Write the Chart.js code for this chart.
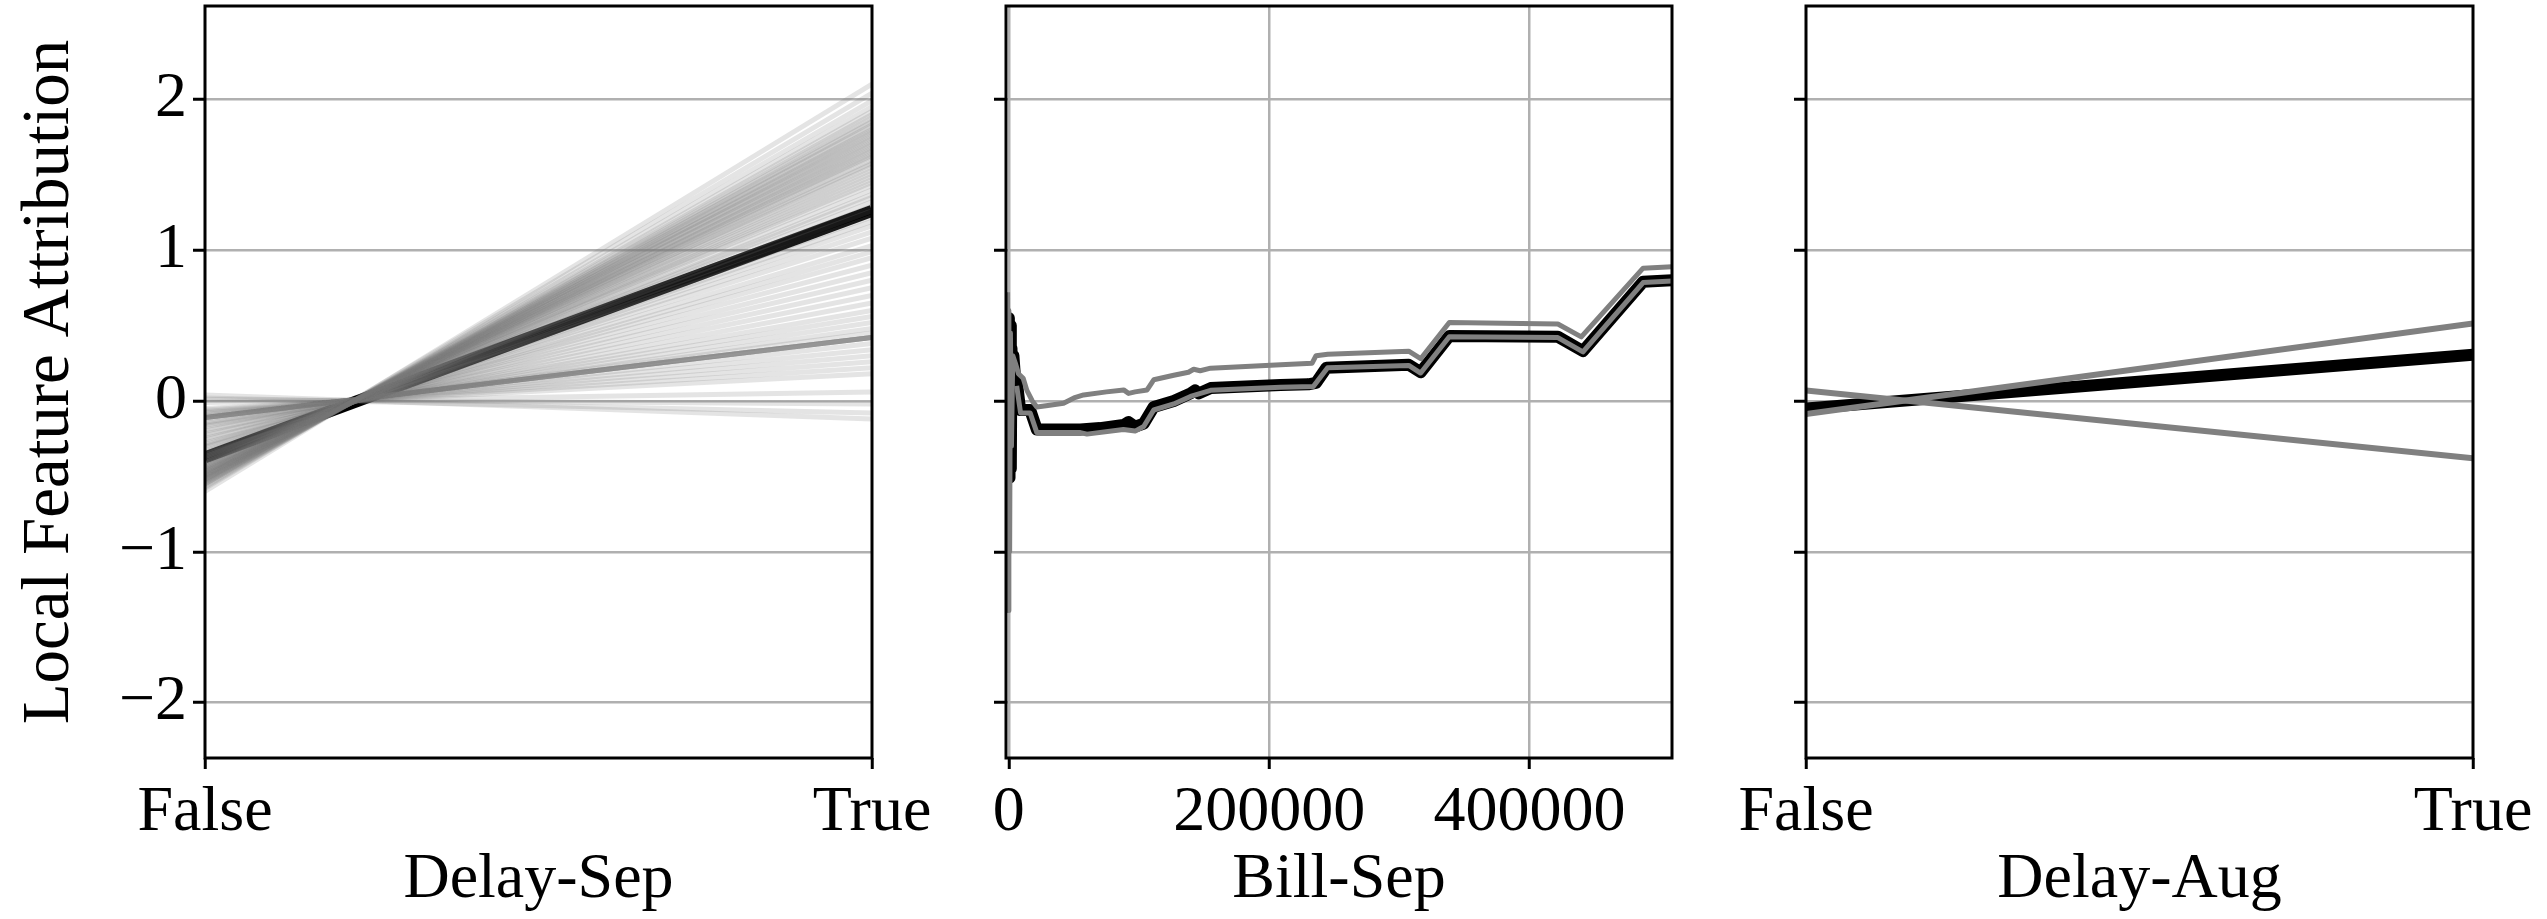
<!DOCTYPE html>
<html>
<head>
<meta charset="utf-8">
<script src="https://cdn.jsdelivr.net/npm/chart.js@4.4.0/dist/chart.umd.min.js"></script>
<style>
  body { margin: 0; background: #fff; width: 2547px; height: 919px; position: relative; overflow: hidden; }
  canvas { position: absolute; top: 0; }
</style>
</head>
<body>
<canvas id="delaySep" width="960" height="919" style="left:0px"></canvas>
<canvas id="billSep" width="800" height="919" style="left:940px"></canvas>
<canvas id="delayAug" width="827" height="919" style="left:1720px"></canvas>
<script>
// shared y range
const yMin = -2.367;
const yMax = 2.618;
const yTickStep = 1;

// Delay-Sep: many local lines, each from False to True
const sepTrue = [2.10, 2.04, 1.99, 1.95, 1.92, 1.90, 1.88, 1.86, 1.85, 1.83, 1.82, 1.80, 1.79, 1.78, 1.76,
  1.75, 1.74, 1.72, 1.71, 1.70, 1.68, 1.67, 1.66, 1.64, 1.63, 1.62, 1.60, 1.58, 1.57, 1.55, 1.53, 1.51,
  1.49, 1.47, 1.45, 1.43, 1.40, 1.37, 1.35, 1.32, 1.29, 1.26, 1.22, 1.19, 1.16, 1.12, 1.08, 1.03, 0.99,
  0.95, 0.90, 0.85, 0.80, 0.75, 0.70, 0.65, 0.60, 0.56, 0.52, 0.48, 0.45, 0.42, 0.42, 0.42, 0.42, 0.42,
  0.42, 0.42, 0.38, 0.34, 0.30, 0.26, 0.22, 0.18, 0.06, -0.02, -0.08, -0.12];
const sepFalse = [-0.60, -0.58, -0.57, -0.56, -0.55, -0.55, -0.54, -0.54, -0.53, -0.53, -0.52, -0.52, -0.52, -0.51, -0.51,
  -0.50, -0.50, -0.50, -0.49, -0.49, -0.49, -0.48, -0.48, -0.47, -0.47, -0.47, -0.46, -0.46, -0.45, -0.45, -0.44, -0.44,
  -0.43, -0.43, -0.42, -0.41, -0.41, -0.40, -0.39, -0.38, -0.37, -0.37, -0.36, -0.35, -0.34, -0.33, -0.31, -0.30, -0.29,
  -0.28, -0.26, -0.25, -0.23, -0.22, -0.20, -0.19, -0.17, -0.16, -0.15, -0.14, -0.12, -0.11, -0.11, -0.11, -0.11, -0.11,
  -0.11, -0.11, -0.10, -0.09, -0.08, -0.07, -0.06, -0.05, -0.01, 0.01, 0.02, 0.04];
const sepMean = [-0.374, 1.26];

// Bill-Sep: global curve (black) and two local curves (gray)
const billBlackX = [-500, 0, 500, 1000, 1500, 2000, 2800, 3500, 4500, 6200, 8700, 16400, 21500, 55000, 70000, 88000,
  92000, 97000, 103600, 111300, 126700, 139600, 143000, 146000, 155000, 208800, 230000, 236000, 244000, 307200,
  316400, 338400, 421800, 441100, 487300, 509500];
const billBlack = [0.30, 0.55, -0.51, 0.50, -0.45, 0.35, 0.10, 0.30, 0.18, 0.12, -0.06, -0.06, -0.19, -0.19, -0.18, -0.16,
  -0.14, -0.17, -0.15, -0.04, 0.00, 0.05, 0.07, 0.05, 0.085, 0.105, 0.11, 0.12, 0.22, 0.24,
  0.19, 0.43, 0.425, 0.33, 0.79, 0.80];
const billUpperX = [-1000, -500, 0, 600, 1200, 2000, 3000, 5000, 7400, 11000, 13850, 18000, 21500, 30000, 42000, 50000,
  57400, 75000, 88200, 92000, 97000, 106200, 111300, 126700, 138000, 142000, 147000, 155000, 208800, 233000,
  236000, 245000, 307200, 316400, 338400, 421800, 439800, 487300, 509500];
const billUpper = [0.72, -1.39, 0.60, -1.00, 0.45, -0.30, 0.30, 0.25, 0.18, 0.15, 0.07, 0.00, -0.04, -0.03, -0.015, 0.02,
  0.04, 0.06, 0.073, 0.05, 0.06, 0.073, 0.14, 0.17, 0.19, 0.21, 0.20, 0.217, 0.24, 0.25,
  0.30, 0.31, 0.33, 0.28, 0.52, 0.51, 0.425, 0.88, 0.89];
const billLowerX = [6000, 9000, 16400, 21500, 55000, 60000, 88000, 97000, 103600, 111300, 126700, 139600, 155000,
  208800, 233900, 244900, 307200, 316400, 338400, 421800, 441100, 487300, 509500];
const billLower = [0.10, -0.08, -0.08, -0.21, -0.21, -0.22, -0.19, -0.20, -0.17, -0.06, -0.02, 0.03, 0.07,
  0.09, 0.095, 0.22, 0.235, 0.185, 0.425, 0.42, 0.325, 0.785, 0.795];
const billTicks = [0, 200000, 400000];

// Delay-Aug: global line and two local lines, [False, True]
const augMean = [-0.05, 0.307];
const augUp = [-0.086, 0.514];
const augDown = [0.07, -0.38];

const boolLabels = ['False', 'True'];

Chart.defaults.font.family = "'Liberation Serif', serif";
Chart.defaults.color = '#000';

const fontBig = { size: 64, family: "'Liberation Serif', serif" };
const fontTitleY = { size: 67, family: "'Liberation Serif', serif" };
const gridGray = '#b0b0b0';

const frame = {
  id: 'frame',
  afterDatasetsDraw(chart) {
    const { ctx, chartArea: a } = chart;
    ctx.save();
    ctx.strokeStyle = '#000';
    ctx.lineWidth = 3;
    ctx.strokeRect(a.left, a.top, a.right - a.left, a.bottom - a.top);
    ctx.restore();
  }
};

function pairLine(xs, ys, color, width) {
  return {
    data: xs.map((x, i) => ({ x: x, y: ys[i] })),
    borderColor: color,
    borderWidth: width,
    pointRadius: 0,
    tension: 0,
    borderJoinStyle: 'round',
    fill: false
  };
}

function yAxis(width, showLabels, title) {
  return {
    type: 'linear',
    min: yMin,
    max: yMax,
    ticks: {
      stepSize: yTickStep,
      includeBounds: false,
      padding: 6,
      font: fontBig,
      color: '#000',
      callback: v => showLabels ? String(v).replace('-', '\u2212') : ''
    },
    grid: { color: gridGray, lineWidth: 2.5, tickColor: '#000', tickWidth: 3, tickLength: 12 },
    border: { display: false },
    title: {
      display: !!title,
      text: title || '',
      font: fontTitleY,
      color: '#000',
      padding: { top: 10, bottom: 0 }
    },
    afterFit(s) { s.width = width; s.paddingTop = 0; s.paddingBottom = 0; }
  };
}

function xAxis(opts, title, showGrid) {
  return Object.assign({
    type: 'linear',
    grid: { color: gridGray, lineWidth: 2.5, drawOnChartArea: showGrid, tickColor: '#000', tickWidth: 3, tickLength: 11 },
    border: { display: false },
    title: { display: true, text: title, font: fontBig, color: '#000', padding: { top: 0, bottom: 0 } },
    afterFit(s) { s.height = 161; s.paddingLeft = 0; s.paddingRight = 0; }
  }, opts);
}

function makeChart(id, datasets, xScale, yScale, padRight) {
  return new Chart(document.getElementById(id), {
    type: 'line',
    data: { datasets: datasets },
    options: {
      responsive: false,
      animation: false,
      devicePixelRatio: 1,
      layout: { padding: { top: 6, right: padRight, bottom: 0, left: 0 } },
      plugins: { legend: { display: false }, tooltip: { enabled: false } },
      scales: { x: xScale, y: yScale }
    },
    plugins: [frame]
  });
}

const boolTicks = { padding: 6, font: fontBig, color: '#000', maxRotation: 0, autoSkip: false, callback: v => boolLabels[v] };

// Delay-Sep
const sepSets = sepTrue.map((t, i) => pairLine([0, 1], [sepFalse[i], t], 'rgba(120,120,120,0.2)', 5));
sepSets.push(pairLine([0, 1], sepMean, '#000', 12));
makeChart('delaySep', sepSets,
  xAxis({
    min: 0, max: 1,
    afterBuildTicks(s) { s.ticks = [{ value: 0 }, { value: 1 }]; },
    ticks: boolTicks
  }, 'Delay-Sep', false),
  yAxis(205, true, 'Local Feature Attribution'), 88);

// Bill-Sep
makeChart('billSep', [
  pairLine(billUpperX, billUpper, '#808080', 5),
  pairLine(billLowerX, billLower, '#808080', 5),
  pairLine(billBlackX, billBlack, '#000', 12)
],
  xAxis({
    min: -2200, max: 509500,
    afterBuildTicks(s) { s.ticks = billTicks.map(v => ({ value: v })); },
    ticks: { padding: 6, font: fontBig, color: '#000', maxRotation: 0, autoSkip: false, callback: v => String(v) }
  }, 'Bill-Sep', true),
  yAxis(66, false, null), 68);

// Delay-Aug
makeChart('delayAug', [
  pairLine([0, 1], augUp, '#808080', 6),
  pairLine([0, 1], augDown, '#808080', 6),
  pairLine([0, 1], augMean, '#000', 12)
],
  xAxis({
    min: 0, max: 1,
    afterBuildTicks(s) { s.ticks = [{ value: 0 }, { value: 1 }]; },
    ticks: boolTicks
  }, 'Delay-Aug', false),
  yAxis(86, false, null), 74);
</script>
</body>
</html>
